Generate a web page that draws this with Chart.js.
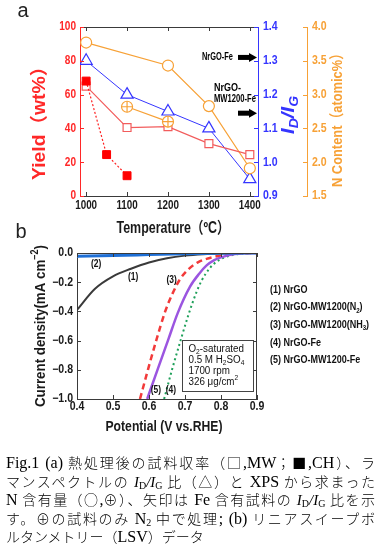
<!DOCTYPE html>
<html><head><meta charset="utf-8">
<script src="https://cdn.jsdelivr.net/npm/chart.js@4/dist/chart.umd.min.js"></script>
<style>
html,body{margin:0;padding:0;background:#fff;width:378px;height:548px;overflow:hidden;}
#wrap{position:relative;width:378px;height:548px;}
canvas{position:absolute;left:0;}
#ca{top:0;} #cb{top:220px;}
#cap{position:absolute;left:6px;top:453px;width:369px;font-family:"Noto Sans CJK JP",sans-serif;font-size:14px;line-height:18.5px;color:#000;font-weight:300;}
.ln{white-space:nowrap;text-align:justify;text-align-last:justify;height:18.5px;}
.ln.last{text-align-last:left;}
.l{font-family:"Liberation Serif",serif;font-size:16px;font-weight:400;}
.it{font-family:"Liberation Serif",serif;font-style:italic;font-size:15px;}
sub{font-size:10px;vertical-align:-2px;line-height:0;font-family:"Liberation Serif",serif;}
</style></head>
<body><div id="wrap">
<canvas id="ca" width="378" height="240"></canvas>
<canvas id="cb" width="378" height="220"></canvas>
<div id="cap">
<div class="ln"><span class="l">Fig.1 (a)</span> 熱処理後の試料収率（□<span class="l">,MW</span>；■<span class="l">,CH</span>）、ラ</div>
<div class="ln">マンスペクトルの <span class="it">I</span><sub>D</sub><span class="it">/I</span><sub>G</sub> 比（△）と <span class="l">XPS</span> から求まった</div>
<div class="ln"><span class="l">N</span> 含有量（○<span class="l">,</span>⊕）、矢印は <span class="l">Fe</span> 含有試料の <span class="it">I</span><sub>D</sub><span class="it">/I</span><sub>G</sub> 比を示</div>
<div class="ln">す。⊕の試料のみ <span class="l">N</span><sub>2</sub> 中で処理<span class="l">; (b)</span> リニアスイープボ</div>
<div class="ln last">ルタンメトリー（<span class="l">LSV</span>）データ</div>
</div>
</div>
<script>
// ---------- Panel (a) data ----------
const temps = [1000, 1100, 1200, 1300, 1400];
const yieldMW = [65, 40.5, 41, 31, 24.5];
const tempsCH = [1000, 1050, 1100];
const yieldCH = [68, 24.5, 12];
const ratioIDIG = [1.30, 1.20, 1.15, 1.10, 0.95];
const tempsN = [1000, 1200, 1300, 1400];
const nContent = [3.77, 3.43, 2.83, 1.91];
const tempsN2 = [1100, 1200];
const nContentN2 = [2.82, 2.60];
const feSamples = [['NrGO-Fe'], ['NrGO-', 'MW1200-Fe']];
const feIDIG = [1.31, 1.145];
const tempTicks = [1000, 1100, 1200, 1300, 1400];
const yieldTicks = [0, 20, 40, 60, 80, 100];
const ratioTicks = [0.9, 1.0, 1.1, 1.2, 1.3, 1.4];
const nTicks = [1.5, 2.0, 2.5, 3.0, 3.5, 4.0];

// ---------- Panel (b) data ----------
const potNrGO = [0.40, 0.45, 0.50, 0.55, 0.60, 0.65, 0.70, 0.75, 0.80, 0.90];
const curNrGO = [-0.39, -0.245, -0.16, -0.108, -0.065, -0.036, -0.018, -0.008, -0.003, 0];
const potMWN2 = [0.40, 0.50, 0.60, 0.70, 0.80, 0.90];
const curMWN2 = [-0.022, -0.017, -0.011, -0.005, -0.001, 0];
const potMWNH3 = [0.575, 0.597, 0.62, 0.645, 0.665, 0.686, 0.71, 0.737, 0.76, 0.78, 0.80, 0.83, 0.86, 0.90];
const curMWNH3 = [-1.0, -0.80, -0.60, -0.40, -0.28, -0.18, -0.11, -0.062, -0.04, -0.027, -0.017, -0.007, -0.002, 0];
const potFe = [0.642, 0.665, 0.69, 0.71, 0.73, 0.746, 0.77, 0.788, 0.81, 0.84, 0.87, 0.90];
const curFe = [-1.0, -0.79, -0.58, -0.42, -0.28, -0.19, -0.10, -0.059, -0.03, -0.01, -0.002, 0];
const potMWFe = [0.595, 0.625, 0.654, 0.68, 0.714, 0.74, 0.76, 0.78, 0.807, 0.83, 0.86, 0.90];
const curMWFe = [-1.0, -0.79, -0.59, -0.41, -0.23, -0.14, -0.085, -0.05, -0.025, -0.01, -0.002, 0];
// "_x" = subscript, "^x" = superscript
const lsvLabels = ['(1) NrGO', '(2) NrGO-MW1200(N_2)', '(3) NrGO-MW1200(NH_3)', '(4) NrGO-Fe', '(5) NrGO-MW1200-Fe'];
const potTicks = [0.4, 0.5, 0.6, 0.7, 0.8, 0.9];
const curTicks = [-1.0, -0.8, -0.6, -0.4, -0.2, 0.0];
const conditions = ['O_2-saturated', '0.5 M H_2SO_4', '1700 rpm', '326 μg/cm^2'];

// ---------- helpers ----------
const FAM = '"Liberation Sans", Arial, "Noto Sans CJK JP", sans-serif';
function fontStr(size, bold, italic, fam) { return (italic ? 'italic ' : '') + (bold ? 'bold ' : '') + size + 'px ' + (fam || FAM); }
function rich(ctx, segs, x, y, o) {
  const size = o.size, bold = o.bold !== false;
  ctx.save();
  const widths = []; let total = 0;
  segs.forEach(s => {
    const sz = (s.sub || s.sup) ? size * 0.68 : size;
    ctx.font = fontStr(sz, bold, s.italic || o.italic, o.fam);
    const w = ctx.measureText(s.t).width; widths.push(w); total += w;
  });
  const sx = o.len ? o.len / total : (o.sx || 1);
  ctx.translate(x, y); if (o.rot) ctx.rotate(o.rot); ctx.scale(sx, 1);
  let cx = o.align === 'center' ? -total / 2 : o.align === 'right' ? -total : 0;
  ctx.fillStyle = o.color || '#000'; ctx.textBaseline = 'middle'; ctx.textAlign = 'left';
  segs.forEach((s, i) => {
    const sz = (s.sub || s.sup) ? size * 0.68 : size;
    ctx.font = fontStr(sz, bold, s.italic || o.italic, o.fam);
    const dy = s.sub ? size * 0.3 : s.sup ? -size * 0.38 : 0;
    ctx.fillText(s.t, cx, dy); cx += widths[i];
  });
  ctx.restore();
}
function txt(ctx, t, x, y, o) { rich(ctx, [{ t }], x, y, o); }
function markup(s) {
  const segs = []; let buf = '';
  for (let i = 0; i < s.length; i++) {
    const c = s[i];
    if ((c === '_' || c === '^') && i + 1 < s.length) {
      if (buf) segs.push({ t: buf }); buf = '';
      segs.push({ t: s[i + 1], sub: c === '_', sup: c === '^' }); i++;
    } else buf += c;
  }
  if (buf) segs.push({ t: buf });
  return segs;
}
function line(ctx, x1, y1, x2, y2) { ctx.beginPath(); ctx.moveTo(x1, y1); ctx.lineTo(x2, y2); ctx.stroke(); }
const pts = (xs, ys) => xs.map((x, i) => ({ x, y: ys[i] }));
const setTicks = arr => s => { s.ticks = arr.map(v => ({ value: v })); };
const fmt1 = v => (v < 0 ? '\u2212' : '') + Math.abs(v).toFixed(1);

const RED = '#ff2828', RED2 = '#f25c5c', BLUE = '#3535ff', ORANGE = '#f7a136', DARK = '#3a3a3a';

// ---------- Panel (a) ----------
const plugA = {
  id: 'plugA',
  afterDraw(chart) {
    const ctx = chart.ctx, ca = chart.chartArea;
    const sx = chart.scales.x, sy = chart.scales.y, sb = chart.scales.y1, so = chart.scales.y2;
    ctx.save(); ctx.lineWidth = 1;
    ctx.strokeStyle = DARK; line(ctx, ca.left, ca.top + 0.5, ca.right, ca.top + 0.5);
    sx.ticks.forEach(t => { const p = Math.round(sx.getPixelForValue(t.value)) + 0.5; line(ctx, p, ca.bottom, p, ca.bottom - 4); line(ctx, p, ca.top, p, ca.top + 4); });
    ctx.strokeStyle = RED; sy.ticks.forEach(t => { const p = Math.round(sy.getPixelForValue(t.value)) + 0.5; line(ctx, ca.left, p, ca.left + 4, p); });
    ctx.strokeStyle = BLUE; sb.ticks.forEach(t => { const p = Math.round(sb.getPixelForValue(t.value)) + 0.5; line(ctx, ca.right, p, ca.right - 4, p); });
    ctx.strokeStyle = ORANGE; so.ticks.forEach(t => { const p = Math.round(so.getPixelForValue(t.value)) + 0.5; line(ctx, so.left, p, so.left - 4, p); });
    ctx.restore();
    // tick labels
    sx.ticks.forEach(t => txt(ctx, String(t.value), sx.getPixelForValue(t.value), ca.bottom + 10, { size: 12, sx: 0.82, color: '#1a1a1a', align: 'center' }));
    sy.ticks.forEach(t => txt(ctx, String(t.value), ca.left - 4, sy.getPixelForValue(t.value), { size: 12, sx: 0.84, color: RED, align: 'right' }));
    sb.ticks.forEach(t => txt(ctx, t.value.toFixed(1), ca.right + 5, sb.getPixelForValue(t.value), { size: 12, sx: 0.88, color: BLUE, align: 'left' }));
    so.ticks.forEach(t => txt(ctx, t.value.toFixed(1), so.left + 5, so.getPixelForValue(t.value), { size: 12, sx: 0.88, color: ORANGE, align: 'left' }));
    // axis titles
    txt(ctx, 'Yield（wt%）', 40, 118.5, { size: 18, len: 123, color: RED, align: 'center', rot: -Math.PI / 2 });
    rich(ctx, [{ t: 'I', italic: true }, { t: 'D', sub: true, italic: true }, { t: '/', italic: true }, { t: 'I', italic: true }, { t: 'G', sub: true, italic: true }], 289, 115, { size: 18, len: 38, color: BLUE, align: 'center', rot: -Math.PI / 2 });
    txt(ctx, 'N Content（atomic%）', 338, 117, { size: 15, len: 140, color: ORANGE, align: 'center', rot: -Math.PI / 2 });
    txt(ctx, 'Temperature（ºC）', 173, 229, { size: 16, len: 113, color: '#1a1a1a', align: 'center' });
    txt(ctx, 'a', 23, 11, { size: 20, bold: false, color: '#222', align: 'center' });
    // Fe sample arrows (I_D/I_G of Fe-containing samples, on the blue scale)
    feIDIG.forEach((v, i) => {
      const py = sb.getPixelForValue(v), tip = ca.right - 1;
      ctx.save(); ctx.fillStyle = '#000';
      ctx.fillRect(tip - 19, py - 2.5, 12, 5);
      ctx.beginPath(); ctx.moveTo(tip - 8, py - 4.5); ctx.lineTo(tip, py); ctx.lineTo(tip - 8, py + 4.5); ctx.closePath(); ctx.fill();
      ctx.restore();
      const lab = feSamples[i];
      if (lab.length === 1) txt(ctx, lab[0], tip - 24, py, { size: 10, len: 31, color: '#000', align: 'right' });
      else { txt(ctx, lab[0], tip - 43, py - 25, { size: 10, len: 27, color: '#000', align: 'left' }); txt(ctx, lab[1], tip - 43, py - 14, { size: 10, len: 42, color: '#000', align: 'left' }); }
    });
  }
};

new Chart(document.getElementById('ca'), {
  type: 'line',
  data: {
    datasets: [
      { label: 'Yield CH', data: pts(tempsCH, yieldCH), yAxisID: 'y', borderColor: '#ff2020', borderWidth: 1.2, borderDash: [2, 2], pointStyle: 'rect', pointRadius: 5.6, pointBackgroundColor: '#ff0000', pointBorderColor: '#ff0000', pointBorderWidth: 1 },
      { label: 'N2 cross', data: pts(tempsN2, nContentN2), yAxisID: 'y2', showLine: false, pointStyle: 'cross', pointRadius: 5.5, pointBorderColor: ORANGE, pointBorderWidth: 1.2 },
      { label: 'N content (N2)', data: pts(tempsN2, nContentN2), yAxisID: 'y2', borderColor: ORANGE, borderWidth: 1.2, pointStyle: 'circle', pointRadius: 5.5, pointBackgroundColor: '#fff', pointBorderColor: ORANGE, pointBorderWidth: 1.2 },
      { label: 'Yield MW', data: pts(temps, yieldMW), yAxisID: 'y', borderColor: RED2, borderWidth: 1.2, pointStyle: 'rect', pointRadius: 5.6, pointBackgroundColor: '#fff', pointBorderColor: RED2, pointBorderWidth: 1.2 },
      { label: 'N content', data: pts(tempsN, nContent), yAxisID: 'y2', borderColor: ORANGE, borderWidth: 1.2, pointStyle: 'circle', pointRadius: 5.5, pointBackgroundColor: '#fff', pointBorderColor: ORANGE, pointBorderWidth: 1.2 },
      { label: 'ID/IG', data: pts(temps, ratioIDIG), yAxisID: 'y1', borderColor: BLUE, borderWidth: 1, pointStyle: 'triangle', pointRadius: 7, pointBackgroundColor: '#fff', pointBorderColor: BLUE, pointBorderWidth: 1.2 }
    ]
  },
  options: {
    responsive: false, animation: false, devicePixelRatio: 1,
    layout: { padding: { left: 0, right: 0, top: 27, bottom: 0 } },
    plugins: { legend: { display: false }, tooltip: { enabled: false } },
    scales: {
      x: { type: 'linear', min: 985, max: 1420, afterBuildTicks: setTicks(tempTicks), afterFit: s => { s.height = 44; }, ticks: { display: false }, grid: { display: false }, border: { color: DARK, width: 1 } },
      y: { position: 'left', min: 0, max: 100, afterBuildTicks: setTicks(yieldTicks), afterFit: s => { s.width = 80; }, ticks: { display: false }, grid: { display: false }, border: { color: RED, width: 1 } },
      y1: { position: 'right', weight: 0, min: 0.9, max: 1.4, afterBuildTicks: setTicks(ratioTicks), afterFit: s => { s.width = 49; }, ticks: { display: false }, grid: { display: false }, border: { color: BLUE, width: 1 } },
      y2: { position: 'right', weight: 1, min: 1.5, max: 4.0, afterBuildTicks: setTicks(nTicks), afterFit: s => { s.width = 71; }, ticks: { display: false }, grid: { display: false }, border: { color: ORANGE, width: 1 } }
    }
  },
  plugins: [plugA]
});

// ---------- Panel (b) ----------
const curveTags = [{ t: '(1)', x: 0.556, y: -0.165 }, { t: '(2)', x: 0.453, y: -0.075 }, { t: '(3)', x: 0.663, y: -0.19 }, { t: '(4)', x: 0.661, y: -0.94 }, { t: '(5)', x: 0.619, y: -0.94 }];
const condBox = { x0: 0.691, x1: 0.890, y0: -0.596, y1: -0.945 };
const plugB = {
  id: 'plugB',
  afterDraw(chart) {
    const ctx = chart.ctx, ca = chart.chartArea, sx = chart.scales.x, sy = chart.scales.y;
    ctx.save(); ctx.lineWidth = 1; ctx.strokeStyle = DARK;
    line(ctx, ca.left, ca.top + 0.5, ca.right, ca.top + 0.5);
    line(ctx, ca.right - 0.5, ca.top, ca.right - 0.5, ca.bottom);
    sx.ticks.forEach(t => { const p = Math.round(sx.getPixelForValue(t.value)) + 0.5; line(ctx, p, ca.bottom, p, ca.bottom - 4); line(ctx, p, ca.top, p, ca.top + 4); });
    sy.ticks.forEach(t => { const p = Math.round(sy.getPixelForValue(t.value)) + 0.5; line(ctx, ca.left, p, ca.left + 4, p); line(ctx, ca.right, p, ca.right - 4, p); });
    // condition box
    const bx0 = Math.round(sx.getPixelForValue(condBox.x0)) + 0.5, bx1 = Math.round(sx.getPixelForValue(condBox.x1)) + 0.5;
    const by0 = Math.round(sy.getPixelForValue(condBox.y0)) + 0.5, by1 = Math.round(sy.getPixelForValue(condBox.y1)) + 0.5;
    ctx.fillStyle = '#fff'; ctx.fillRect(bx0, by0, bx1 - bx0, by1 - by0);
    ctx.strokeStyle = '#444'; ctx.strokeRect(bx0, by0, bx1 - bx0, by1 - by0);
    ctx.restore();
    conditions.forEach((c, i) => rich(ctx, markup(c), bx0 + 6, by0 + 8.5 + i * 11, { size: 10, bold: false, sx: 0.98, color: '#111', align: 'left' }));
    // tick labels
    sx.ticks.forEach(t => txt(ctx, t.value.toFixed(1), sx.getPixelForValue(t.value), ca.bottom + 8, { size: 12, sx: 0.88, color: '#1a1a1a', align: 'center' }));
    sy.ticks.forEach(t => txt(ctx, fmt1(t.value), ca.left - 4, sy.getPixelForValue(t.value), { size: 12, sx: 0.88, color: '#1a1a1a', align: 'right' }));
    // titles
    rich(ctx, [{ t: 'Current density(mA cm' }, { t: '\u22122', sup: true }, { t: ')' }], 41, (ca.top + ca.bottom) / 2, { size: 15, len: 162, color: '#1a1a1a', align: 'center', rot: -Math.PI / 2 });
    txt(ctx, 'Potential (V vs.RHE)', 164, 207, { size: 15, len: 117, color: '#1a1a1a', align: 'center' });
    txt(ctx, 'b', 21, 12, { size: 20, bold: false, color: '#222', align: 'center' });
    // curve tags
    curveTags.forEach(c => txt(ctx, c.t, sx.getPixelForValue(c.x), sy.getPixelForValue(c.y), { size: 10, sx: 0.85, color: '#111', align: 'center' }));
    // legend text
    lsvLabels.forEach((l, i) => rich(ctx, markup(l), ca.right + 13, ca.top + 36.5 + i * 17.7, { size: 11, sx: 0.82, color: '#111', align: 'left' }));
  }
};

const lsvLine = (label, xs, ys, color, width, dash) => ({ label, data: pts(xs, ys), borderColor: color, borderWidth: width, borderDash: dash || [], pointRadius: 0, cubicInterpolationMode: 'monotone', fill: false });
new Chart(document.getElementById('cb'), {
  type: 'line',
  data: {
    datasets: [
      lsvLine('(2) NrGO-MW1200(N2)', potMWN2, curMWN2, '#1e6fd6', 3),
      lsvLine('(5) NrGO-MW1200-Fe', potMWFe, curMWFe, '#9b55e0', 2.5),
      lsvLine('(3) NrGO-MW1200(NH3)', potMWNH3, curMWNH3, '#f23a3a', 2.5, [6, 4]),
      lsvLine('(4) NrGO-Fe', potFe, curFe, '#1fa05a', 2, [2, 3]),
      lsvLine('(1) NrGO', potNrGO, curNrGO, '#3a3a3a', 2)
    ]
  },
  options: {
    responsive: false, animation: false, devicePixelRatio: 1,
    layout: { padding: { left: 0, right: 121, top: 33, bottom: 0 } },
    plugins: { legend: { display: false }, tooltip: { enabled: false } },
    scales: {
      x: { type: 'linear', min: 0.4, max: 0.9, afterBuildTicks: setTicks(potTicks), afterFit: s => { s.height = 41; }, ticks: { display: false }, grid: { display: false }, border: { color: DARK, width: 1 } },
      y: { min: -1, max: 0, afterBuildTicks: setTicks(curTicks), afterFit: s => { s.width = 77; }, ticks: { display: false }, grid: { display: false }, border: { color: DARK, width: 1 } }
    }
  },
  plugins: [plugB]
});
</script>
</body></html>
